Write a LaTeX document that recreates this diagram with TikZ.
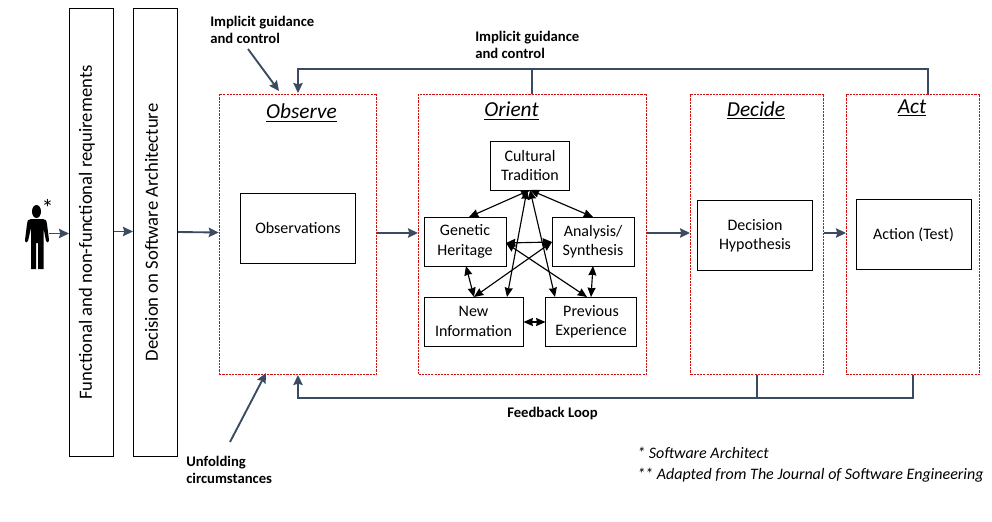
\documentclass[tikz,border=0pt]{standalone}
\usepackage{fontspec}
\setmainfont{Carlito}
\usetikzlibrary{arrows.meta}
\definecolor{flowc}{HTML}{3A4A60}
\definecolor{phasec}{HTML}{D01010}
\tikzset{
 px/.style={x=0.75pt,y=-0.75pt},
 box/.style={draw=black,line width=0.75pt,fill=white,align=center,inner sep=0pt,font=\fontsize{12}{14.5}\selectfont},
 tall/.style={draw=black,line width=0.8pt,fill=white,inner sep=0pt,minimum width=33pt,minimum height=336.5pt},
 talltext/.style={rotate=90,inner sep=0pt,font=\fontsize{14}{16}\selectfont},
 phase/.style={draw=phasec,dash pattern=on 1.6pt off 0.8pt,line width=0.75pt,inner sep=0pt},
 flow/.style={draw=flowc,line width=1.4pt,-{Stealth[length=7.5pt,width=7pt,inset=1pt]}},
 dbl/.style={draw=black,line width=0.85pt,{Stealth[length=7pt,width=6pt,inset=0.5pt]}-{Stealth[length=7pt,width=6pt,inset=0.5pt]}},
 head/.style={font=\fontsize{16}{18}\selectfont\itshape},
 lab/.style={font=\fontsize{11}{12.75}\selectfont\bfseries,align=left,anchor=north west,inner sep=0pt},
 note/.style={font=\fontsize{12}{14}\selectfont\itshape,anchor=west,inner sep=0pt},
}
\newcommand{\mybox}[6]{\node[box,minimum width=#4*0.75pt,minimum height=#5*0.75pt] (#1) at (#2,#3) {#6};}
\begin{document}
\begin{tikzpicture}[px]
\useasboundingbox (0,0) rectangle (992,521);
% tall boxes
\node[tall] (req) at (91.5,232.5) {};
\node[tall] (dec) at (155.5,232.5) {};
\node[talltext] (reqt) at (87,232.5) {Functional and non-functional requirements};
\node[talltext] (dect) at (151.5,232.5) {Decision on Software Architecture};
% phases
\node[phase,minimum width=157.5*0.75pt,minimum height=280*0.75pt] (obs) at (298,234) {};
\node[phase,minimum width=228*0.75pt,minimum height=280*0.75pt] (ori) at (532.5,234) {};
\node[phase,minimum width=133*0.75pt,minimum height=280*0.75pt] (deci) at (757,234) {};
\node[phase,minimum width=133*0.75pt,minimum height=280*0.75pt] (act) at (913,234) {};
\node[head] (hobs) at (301.5,113) {\underline{Observe}};
\node[head] (hori) at (511.5,111) {\underline{Orient}};
\node[head] (hdec) at (756,110) {\underline{Decide}};
\node[head] (hact) at (912,108) {\underline{Act}};
% inner boxes
\mybox{observations}{298}{228.5}{115}{70}{Observations}
\mybox{hyp}{755}{235.5}{115}{70}{Decision\\Hypothesis}
\mybox{action}{913.5}{234.5}{115}{70}{Action (Test)}
\mybox{cult}{530}{165.5}{79}{49}{Cultural\\Tradition}
\mybox{gen}{465}{241.5}{82}{49}{Genetic\\Heritage}
\mybox{ana}{593}{241.5}{82}{49}{Analysis/\\Synthesis}
\mybox{new}{473.5}{321.5}{99}{49}{New\\Information}
\mybox{prev}{591}{321.5}{91}{49}{Previous\\Experience}
% orient arrows
\coordinate (ct) at (530,190);
\draw[dbl] (ct) -- (469,217);
\draw[dbl] (ct) -- (593,217);
\draw[dbl] (527,190) -- (507,297);
\draw[dbl] (530,190) -- (555,297);
\draw[dbl] (506,243) -- (552,242);
\draw[dbl] (506,243) -- (587,297);
\draw[dbl] (552,242) -- (474,297);
\draw[dbl] (466,266) -- (474,297);
\draw[dbl] (593,266) -- (591,297);
\draw[dbl] (523.5,322) -- (545.5,322);
% person
\fill[black] (36.5,211.5) ellipse (4.5 and 6.5);
\fill[black] (31,219) -- (43,219) .. controls (46,219) and (47,221) .. (47,224) -- (49,240) .. controls (49,243) and (46,243) .. (46,241) -- (43.5,228) -- (43.5,269) -- (38,269) -- (38,243) -- (36,243) -- (36,269) -- (31,269) -- (31,228) -- (28,241) .. controls (27.5,243) and (25,243) .. (25,240) -- (27,224) .. controls (27,221) and (28,219) .. (31,219) -- cycle;
\node[inner sep=0pt,font=\fontsize{18}{18}\selectfont] (star) at (47.5,208) {*};
\coordinate (p) at (49,233.5);
% main flow
\draw[flow] (p) -- (req.west |- p);
\draw[flow] (req.east |- 0,231.5) -- (dec.west |- 0,231.5);
\draw[flow] (dec.east |- 0,232) -- (obs.west |- 0,232.5);
\draw[flow] (obs.east |- 0,233) -- (ori.west |- 0,233);
\draw[flow] (ori.east |- 0,233) -- (deci.west |- 0,233);
\draw[flow] (deci.east |- 0,233) -- (act.west |- 0,233);
% feedback loops
\coordinate (t1) at (298,69);
\draw[flow] (928,94) -- (928,69) -- (t1) -- (298,93);
\draw[flow,-] (532,69) -- (532,94);
\draw[flow] (deci.south) -- (757,398) -- (298,398) -- (298,375);
\draw[flow,-] (act.south) -- (913,398) -- (757,398);
% side labels
\node[lab] (l1) at (210,16) {Implicit guidance\\and control};
\node[lab] (l2) at (475,31) {Implicit guidance\\and control};
\node[lab] (l3) at (507,407) {Feedback Loop};
\node[lab] (l4) at (186,455.5) {Unfolding\\circumstances};
\coordinate (a1) at (248,49);
\coordinate (a2) at (279,91);
\coordinate (b1) at (230,442);
\coordinate (b2) at (266,373);
\draw[flow] (a1) -- (a2);
\draw[flow] (b1) -- (b2);
\node[note] (n1) at (637,453) {* Software Architect};
\node[note] (n2) at (637,475) {** Adapted from The Journal of Software Engineering};
\end{tikzpicture}
\end{document}
